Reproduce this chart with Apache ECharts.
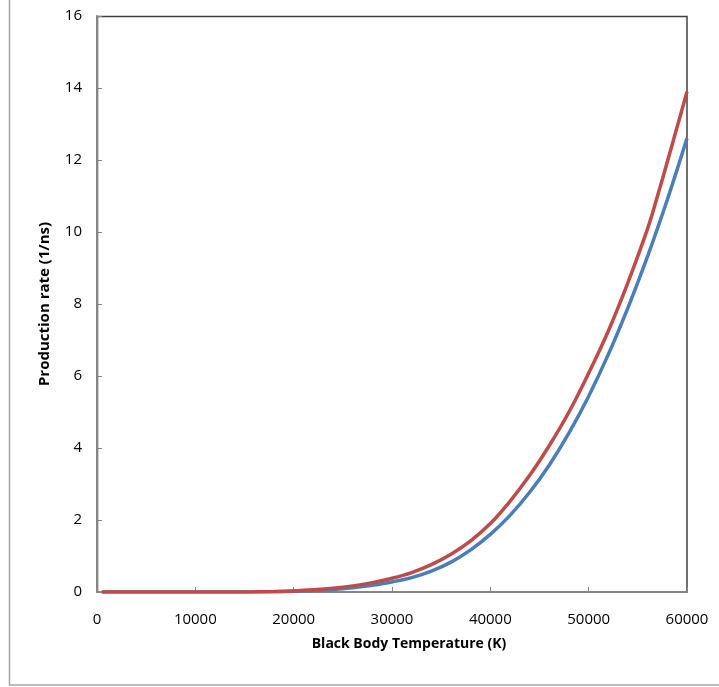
<!DOCTYPE html>
<html>
<head>
<meta charset="utf-8">
<script src="https://cdn.jsdelivr.net/npm/echarts@6/dist/echarts.min.js"></script>
<style>
html,body{margin:0;padding:0;background:#fff;}
#c{width:719px;height:687px;}
</style>
</head>
<body>
<div id="c"></div>
<script>
// Black body temperature (K)
const temperatures = [500, 2000, 4000, 6000, 8000, 10000, 12000, 14000, 16000, 18000, 20000, 22000, 24000, 26000, 28000, 30000, 32000, 34000, 36000, 38000, 40000, 42000, 44000, 46000, 48000, 50000, 52000, 54000, 56000, 57000, 58000, 59000, 60000];
// Production rate (1/ns), red series
const redRates = [0, 0, 0, 0, 0, 0, 0.0005, 0.0015, 0.005, 0.014, 0.03, 0.06, 0.105, 0.17, 0.26, 0.38, 0.54, 0.76, 1.05, 1.42, 1.90, 2.52, 3.24, 4.07, 5.00, 6.08, 7.25, 8.60, 10.10, 11.0, 11.95, 12.92, 13.9];
// Production rate (1/ns), blue series
const blueRates = [0, 0, 0, 0, 0, 0, 0.0003, 0.001, 0.003, 0.009, 0.02, 0.04, 0.07, 0.12, 0.19, 0.28, 0.40, 0.58, 0.83, 1.17, 1.60, 2.13, 2.77, 3.53, 4.42, 5.44, 6.60, 7.90, 9.33, 10.10, 10.90, 11.74, 12.6];
const xTicks = [0, 10000, 20000, 30000, 40000, 50000, 60000];
const yTicks = [0, 2, 4, 6, 8, 10, 12, 14, 16];

const xTitle = 'Black Body Temperature (K)';
const yTitle = 'Production rate (1/ns)';

const font = 'Open Sans';
const chart = echarts.init(document.getElementById('c'), null, {renderer: 'canvas'});
chart.setOption({
  animation: false,
  backgroundColor: '#fff',
  grid: {left: 97, right: 32, top: 16, bottom: 95, containLabel: false},
  graphic: [
    {type: 'rect', shape: {x: 9.5, y: -5, width: 730, height: 690}, style: {fill: 'none', stroke: '#a6a6a6', lineWidth: 1.5}, silent: true},
    {type: 'rect', shape: {x: 97.5, y: 16.5, width: 589.5, height: 575.5}, style: {fill: 'none', stroke: '#404040', lineWidth: 1.5}, silent: true, z: 0}
  ],
  xAxis: {
    type: 'value', min: xTicks[0], max: xTicks[xTicks.length-1], interval: 10000,
    name: xTitle, nameLocation: 'middle', nameGap: 45,
    nameTextStyle: {fontFamily: font, fontWeight: 'bold', fontSize: 14, color: '#000', padding: [0, 0, 0, 34]},
    axisLine: {show: true, lineStyle: {color: '#868686', width: 2}},
    axisTick: {show: true, inside: true, length: 5, lineStyle: {color: '#868686', width: 1}},
    axisLabel: {fontFamily: font, fontSize: 15, color: '#000', margin: 20, formatter: v => String(v)},
    splitLine: {show: false}
  },
  yAxis: {
    type: 'value', min: yTicks[0], max: yTicks[yTicks.length-1], interval: 2,
    name: yTitle, nameLocation: 'middle', nameGap: 45, nameRotate: 90,
    nameTextStyle: {fontFamily: font, fontWeight: 'bold', fontSize: 15, color: '#000'},
    axisLine: {show: true, lineStyle: {color: '#868686', width: 2}},
    axisTick: {show: true, inside: true, length: 5, lineStyle: {color: '#868686', width: 1}},
    axisLabel: {fontFamily: font, fontSize: 15, color: '#000', margin: 15},
    splitLine: {show: false}
  },
  series: [
    {type: 'line', data: temperatures.map((t, i) => [t, blueRates[i]]), smooth: 0.4, showSymbol: false,
     lineStyle: {color: '#4a7ebb', width: 3.5}, itemStyle: {color: '#4a7ebb'}, z: 3},
    {type: 'line', data: temperatures.map((t, i) => [t, redRates[i]]), smooth: 0.4, showSymbol: false,
     lineStyle: {color: '#be4b48', width: 3.5}, itemStyle: {color: '#be4b48'}, z: 4}
  ]
});
</script>
</body>
</html>
